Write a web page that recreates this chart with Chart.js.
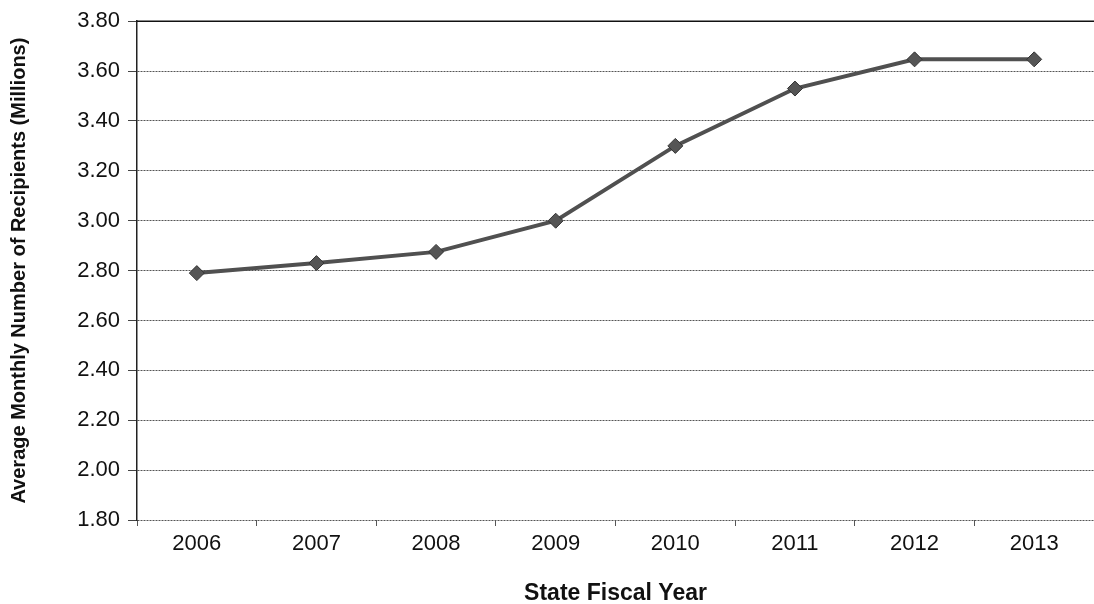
<!DOCTYPE html>
<html>
<head>
<meta charset="utf-8">
<script src="https://cdn.jsdelivr.net/npm/chart.js@4/dist/chart.umd.min.js"></script>
<style>
  html, body { margin: 0; padding: 0; background: #fff; }
  #wrap { width: 1094px; height: 604px; }
</style>
</head>
<body>
<div id="wrap"><canvas id="recipientsChart"></canvas></div>
<script>
var years = ["2006", "2007", "2008", "2009", "2010", "2011", "2012", "2013"];
var recipients = [2.79, 2.83, 2.875, 3.00, 3.30, 3.53, 3.647, 3.647];
var yMin = 1.8;
var yMax = 3.8;
var yStep = 0.2;

// solid frame line along the top of the plot area
var topLine = {
    id: "topLine",
    afterDraw: function (chart) {
        var a = chart.chartArea;
        var ctx = chart.ctx;
        ctx.save();
        ctx.strokeStyle = "#111";
        ctx.lineWidth = 1.5;
        ctx.beginPath();
        ctx.moveTo(a.left, a.top);
        ctx.lineTo(a.right, a.top);
        ctx.stroke();
        ctx.restore();
    }
};

const data = {
    labels: years,
    datasets: [{
        label: "Average Monthly Number of Recipients",
        data: recipients,
        fill: false,
        borderColor: "#505050",
        borderWidth: 4,
        tension: 0,
        pointStyle: "rectRot",
        pointRadius: 7.5,
        pointBackgroundColor: "#555",
        pointBorderColor: "#333",
        pointBorderWidth: 1
    }]
};

const config = {
    type: "line",
    data: data,
    plugins: [topLine],
    options: {
        responsive: false,
        animation: false,
        devicePixelRatio: 1,
        layout: { autoPadding: false, padding: { top: 20, right: 0, bottom: 0, left: 0 } },
        plugins: {
            legend: { display: false },
            tooltip: { enabled: false }
        },
        scales: {
            x: {
                type: "category",
                offset: true,
                afterFit: function (s) {
                    s.height = 84;
                    s.paddingLeft = 0;
                    s.paddingRight = 0;
                },
                grid: {
                    offset: true,
                    drawOnChartArea: false,
                    drawTicks: true,
                    tickLength: 6,
                    tickColor: "#555",
                    tickWidth: 1
                },
                border: { display: false },
                ticks: {
                    color: "#111",
                    padding: 5,
                    font: { family: "Liberation Sans, Arial, sans-serif", size: 22 }
                },
                title: {
                    display: true,
                    text: "State Fiscal Year",
                    color: "#111",
                    padding: { top: 0, bottom: 0 },
                    font: { family: "Liberation Sans, Arial, sans-serif", size: 23, weight: "bold", lineHeight: 0.9 }
                }
            },
            y: {
                min: yMin,
                max: yMax,
                afterFit: function (s) { s.width = 137; },
                grid: {
                    color: "#555",
                    lineWidth: 1,
                    tickLength: 9,
                    tickColor: "#444"
                },
                border: { display: true, color: "#222", width: 1.5, dash: [2, 1] },
                ticks: {
                    stepSize: yStep,
                    color: "#111",
                    padding: 8,
                    font: { family: "Liberation Sans, Arial, sans-serif", size: 22 },
                    callback: function (v) { return Number(v).toFixed(2); }
                },
                title: {
                    display: true,
                    text: "Average Monthly Number of Recipients (Millions)",
                    color: "#111",
                    padding: { top: 7, bottom: 0 },
                    font: { family: "Liberation Sans, Arial, sans-serif", size: 20, weight: "bold", lineHeight: 1.2 }
                }
            }
        }
    }
};

var canvas = document.getElementById("recipientsChart");
canvas.width = 1094;
canvas.height = 604;
var recipientsChart = new Chart(canvas, config);
</script>
</body>
</html>
